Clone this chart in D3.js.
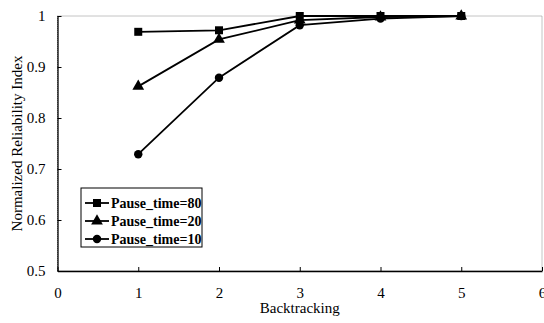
<!DOCTYPE html>
<html>
<head>
<meta charset="utf-8">
<script src="https://cdn.jsdelivr.net/npm/d3@7"></script>
<style>
  body { margin: 0; background: #fff; }
  svg { display: block; }
  text { font-family: "Liberation Serif", "Times New Roman", serif; fill: #000; }
</style>
</head>
<body>
<div id="vis"></div>
<script>
var backtracking = [1, 2, 3, 4, 5];
var pause80 = [0.969, 0.972, 1.0, 1.0, 1.0];
var pause20 = [0.862, 0.954, 0.992, 0.998, 1.0];
var pause10 = [0.729, 0.879, 0.982, 0.995, 1.0];
var seriesNames = ['Pause_time=80', 'Pause_time=20', 'Pause_time=10'];
var xTicks = [0, 1, 2, 3, 4, 5, 6];
var yTicks = [0.5, 0.6, 0.7, 0.8, 0.9, 1];

var width = 544;
var height = 323;
var margin = { top: 16, right: 2, bottom: 52, left: 57.5 };

var series = [
  { name: seriesNames[0], values: pause80, shape: d3.symbolSquare, size: 64 },
  { name: seriesNames[1], values: pause20, shape: d3.symbolTriangle, size: 60 },
  { name: seriesNames[2], values: pause10, shape: d3.symbolCircle, size: 56 }
];

var svg = d3.select('#vis')
  .append('svg')
  .attr('width', width)
  .attr('height', height);

var x = d3.scaleLinear()
  .domain([0, 6])
  .range([margin.left, width - margin.right]);

var y = d3.scaleLinear()
  .domain([0.5, 1])
  .range([height - margin.bottom, margin.top]);

// plot area border (dotted grey on top / right)
svg.append('rect')
  .attr('x', x(0))
  .attr('y', y(1))
  .attr('width', x(6) - x(0))
  .attr('height', y(0.5) - y(1))
  .attr('fill', 'none')
  .attr('stroke', '#888')
  .attr('stroke-width', 1)
  .attr('stroke-dasharray', '1,1');

svg.append('g')
  .attr('transform', 'translate(0,' + y(0.5) + ')')
  .call(d3.axisBottom(x).tickValues(xTicks).tickSizeInner(-4).tickSizeOuter(0).tickPadding(16).tickFormat(d3.format('d')));

svg.append('g')
  .attr('transform', 'translate(' + x(0) + ',0)')
  .call(d3.axisLeft(y).tickValues(yTicks).tickSizeInner(-4).tickSizeOuter(0).tickPadding(12)
    .tickFormat(function (d) { return d === 1 ? '1' : d3.format('.1f')(d); }));

svg.selectAll('.domain').attr('stroke', '#000').attr('stroke-width', 1.3);
svg.selectAll('.tick line').attr('stroke', '#000');
svg.selectAll('.tick text')
  .style('font-family', '"Liberation Serif", serif')
  .style('font-size', '15px')
  .attr('fill', '#000');

svg.append('text')
  .attr('x', x(3))
  .attr('y', 313)
  .attr('text-anchor', 'middle')
  .style('font-size', '15px')
  .text('Backtracking');

svg.append('text')
  .attr('transform', 'translate(22,' + ((y(0.5) + y(1)) / 2) + ') rotate(-90)')
  .attr('text-anchor', 'middle')
  .style('font-size', '15px')
  .text('Normalized Reliability Index');

var line = d3.line()
  .x(function (d, i) { return x(backtracking[i]); })
  .y(function (d) { return y(d); });

series.forEach(function (s) {
  svg.append('path')
    .datum(s.values)
    .attr('d', line)
    .attr('fill', 'none')
    .attr('stroke', '#000')
    .attr('stroke-width', 1.8);

  svg.selectAll(null)
    .data(s.values)
    .enter().append('path')
    .attr('transform', function (d, i) { return 'translate(' + x(backtracking[i]) + ',' + y(d) + ')'; })
    .attr('d', d3.symbol().type(s.shape).size(s.size))
    .attr('fill', '#000');
});

// legend
var legend = svg.append('g').attr('transform', 'translate(81,188)');
legend.append('rect')
  .attr('width', 121)
  .attr('height', 59)
  .attr('fill', '#fff')
  .attr('stroke', '#000')
  .attr('stroke-width', 1);

series.forEach(function (s, i) {
  var row = legend.append('g').attr('transform', 'translate(0,' + (15 + i * 18) + ')');
  row.append('line')
    .attr('x1', 4).attr('x2', 28)
    .attr('stroke', '#000').attr('stroke-width', 1.8);
  row.append('path')
    .attr('transform', 'translate(16,0)')
    .attr('d', d3.symbol().type(s.shape).size(s.size))
    .attr('fill', '#000');
  row.append('text')
    .attr('x', 30)
    .attr('y', 5)
    .style('font-size', '14px')
    .style('font-weight', 'bold')
    .text(s.name);
});
</script>
</body>
</html>
